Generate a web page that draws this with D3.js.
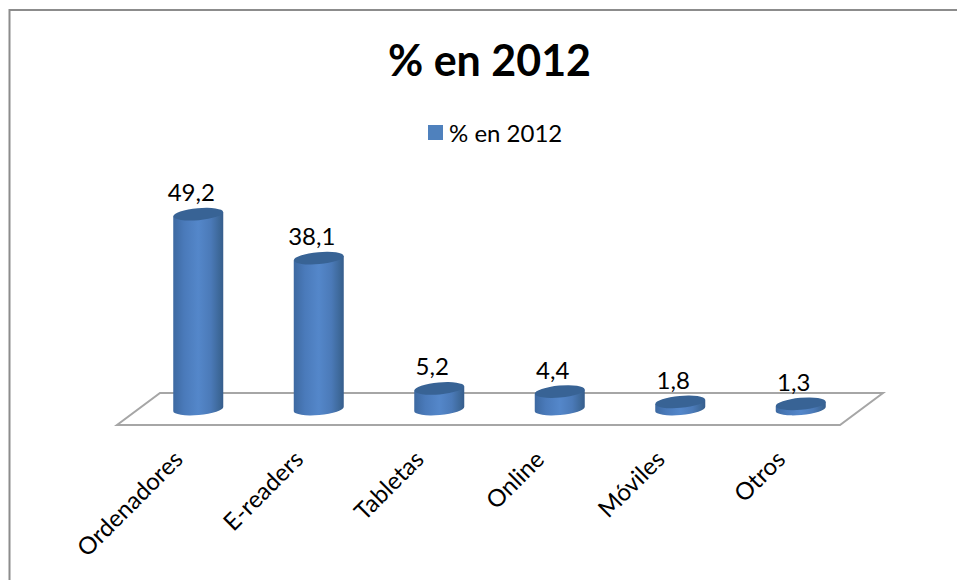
<!DOCTYPE html>
<html>
<head>
<meta charset="utf-8">
<script src="https://cdnjs.cloudflare.com/ajax/libs/d3/7.8.5/d3.min.js"></script>
<style>
  html, body { margin: 0; padding: 0; background: #fff; overflow: hidden; }
  text { font-family: Lato, "Open Sans", sans-serif; fill: #000; }
</style>
</head>
<body>
<svg id="chart" width="957" height="580"></svg>
<script>
// Data
const categories = ['Ordenadores', 'E-readers', 'Tabletas', 'Online', 'Móviles', 'Otros'];
const values = [49.2, 38.1, 5.2, 4.4, 1.8, 1.3];
const valueLabels = ['49,2', '38,1', '5,2', '4,4', '1,8', '1,3'];
const seriesName = '% en 2012';

const svg = d3.select('#chart');

// Bars stand on the floor's mid line, the scales map onto that plane
const x = d3.scaleBand().domain(categories).range([138, 861]);
const y = d3.scaleLinear().domain([0, 50]).range([409, 211]);
const radius = 25;
const squash = 6;
const tilt = -5;

const defs = svg.append('defs');
const grad = defs.append('linearGradient').attr('id', 'body');
[[0, '#3d69a1'], [0.22, '#4a7aba'], [0.5, '#5487ca'], [0.75, '#4b7ab8'], [0.92, '#3d6899'], [1, '#365d8c']]
  .forEach(s => grad.append('stop').attr('offset', s[0]).attr('stop-color', s[1]));

// Chart frame, only the left and top edges are inside the page
svg.append('path')
  .attr('d', 'M9.5,580V10H957')
  .attr('fill', 'none').attr('stroke', '#8c8c8c').attr('stroke-width', 2);

svg.append('text').attr('x', 489.5).attr('y', 76)
  .attr('text-anchor', 'middle')
  .attr('font-size', 43).attr('font-weight', 700)
  .text(seriesName);

// Legend
svg.append('rect').attr('x', 428).attr('y', 125).attr('width', 15).attr('height', 15).attr('fill', '#4f81bd');
svg.append('text').attr('x', 449).attr('y', 142).attr('font-size', 24).text(seriesName);

// Floor
svg.append('path')
  .attr('d', 'M117,425H840L883,393H160Z')
  .attr('fill', '#fff').attr('stroke', '#a6a6a6').attr('stroke-width', 2);

const bars = svg.selectAll('g.bar').data(categories).join('g').attr('class', 'bar');
const cx = d => x(d) + x.bandwidth() / 2;
const lift = radius * Math.sin(-tilt * Math.PI / 180);

// Body runs straight across the top, the cap ellipse covers it
bars.append('path')
  .attr('fill', 'url(#body)')
  .attr('d', (d, i) => {
    const l = cx(d) - radius, r = cx(d) + radius;
    const top = y(values[i]), base = y(0);
    return `M${l},${top + lift}L${l},${base + lift}` +
      `A${radius},${squash} ${tilt} 0 0 ${r},${base - lift}` +
      `L${r},${top - lift}Z`;
  });

bars.append('ellipse')
  .attr('cx', d => cx(d))
  .attr('cy', (d, i) => y(values[i]))
  .attr('rx', radius).attr('ry', squash)
  .attr('fill', '#386395')
  .attr('transform', (d, i) => `rotate(${tilt} ${cx(d)} ${y(values[i])})`);

bars.append('text')
  .attr('x', d => cx(d) - 7)
  .attr('y', (d, i) => y(values[i]) - 13)
  .attr('text-anchor', 'middle')
  .attr('font-size', 24)
  .text((d, i) => valueLabels[i]);

// Category labels
bars.append('text')
  .attr('text-anchor', 'end')
  .attr('font-size', 24)
  .attr('transform', d => `translate(${cx(d) - 14},${461}) rotate(-45)`)
  .text(d => d);
</script>
</body>
</html>
